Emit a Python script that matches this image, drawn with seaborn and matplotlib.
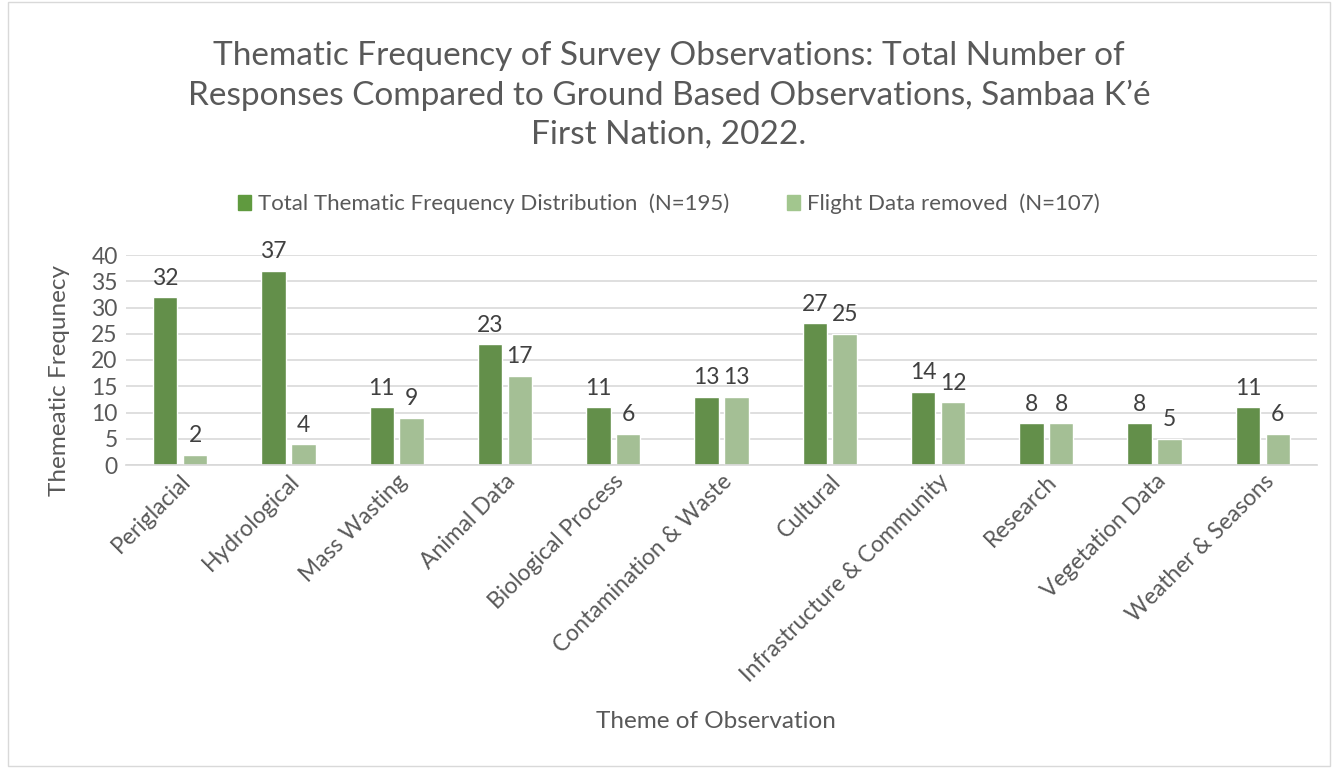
import matplotlib
matplotlib.use('Agg')
import matplotlib.pyplot as plt
import seaborn as sns
import pandas as pd
from matplotlib.patches import Rectangle

categories = ['Periglacial', 'Hydrological', 'Mass Wasting', 'Animal Data', 'Biological Process',
              'Contamination & Waste', 'Cultural', 'Infrastructure & Community', 'Research',
              'Vegetation Data', 'Weather & Seasons']
total = [32, 37, 11, 23, 11, 13, 27, 14, 8, 8, 11]
flight_removed = [2, 4, 9, 17, 6, 13, 25, 12, 8, 5, 6]
series_names = ['Total Thematic Frequency Distribution  (N=195)', 'Flight Data removed  (N=107)']
colors = ['#609A3F', '#A2C68E']

df = pd.DataFrame({'Theme': categories * 2,
                   'Frequency': total + flight_removed,
                   'Series': [series_names[0]] * len(categories) + [series_names[1]] * len(categories)})

sns.set_theme(style='white')
plt.rcParams['font.family'] = ['Lato', 'DejaVu Sans']
text_color = '#595959'

fig = plt.figure(figsize=(13.38, 7.68), dpi=100)
ax = fig.add_axes([126 / 1338, 1 - 465 / 768, (1317 - 126) / 1338, 210 / 768])

sns.barplot(data=df, x='Theme', y='Frequency', hue='Series', palette=colors,
            width=0.55, gap=0.18, ax=ax, legend=False)

for cont in ax.containers:
    ax.bar_label(cont, padding=6, fontsize=16.5, color='#404040')

ax.set_ylim(0, 40)
ax.set_yticks(range(0, 41, 5))
ax.set_xlim(-0.5, len(categories) - 0.5)
ax.yaxis.grid(True, color='#D9D9D9', linewidth=1.2)
ax.set_axisbelow(True)
for s in ['top', 'right', 'left']:
    ax.spines[s].set_visible(False)
ax.spines['bottom'].set_color('#D9D9D9')
ax.tick_params(axis='y', labelsize=16.5, labelcolor=text_color, length=0, pad=6)
ax.tick_params(axis='x', labelsize=16.5, labelcolor=text_color, length=0, pad=4)
plt.setp(ax.get_xticklabels(), rotation=45, ha='right', rotation_mode='anchor')
ax.set_xlabel('Theme of Observation', fontsize=17.5, color=text_color)
ax.xaxis.set_label_coords(0.495, -1.17)
ax.set_ylabel('Themeatic Frequnecy', fontsize=17.5, color=text_color)
ax.yaxis.set_label_coords(-0.047, 0.4)

fig.text(0.5, 1 - 95 / 768, 'Thematic Frequency of Survey Observations: Total Number of\n'
         'Responses Compared to Ground Based Observations, Sambaa K\u2019\u00e9\nFirst Nation, 2022.',
         ha='center', va='center', fontsize=24, color=text_color, linespacing=1.35)

handles = [Rectangle((0, 0), 1, 1, color=c) for c in colors]
fig.legend(handles, series_names, loc='center', bbox_to_anchor=(0.5, 1 - 204 / 768), ncol=2,
           frameon=False, fontsize=16, labelcolor=text_color, handlelength=0.6, handleheight=0.7,
           handletextpad=0.3, columnspacing=2.6)

fig.patches.append(Rectangle((8 / 1338, 0.002), 1322 / 1338, 0.996, transform=fig.transFigure,
                             fill=False, edgecolor='#D9D9D9', linewidth=1))

fig.savefig('out.png', dpi=100)
